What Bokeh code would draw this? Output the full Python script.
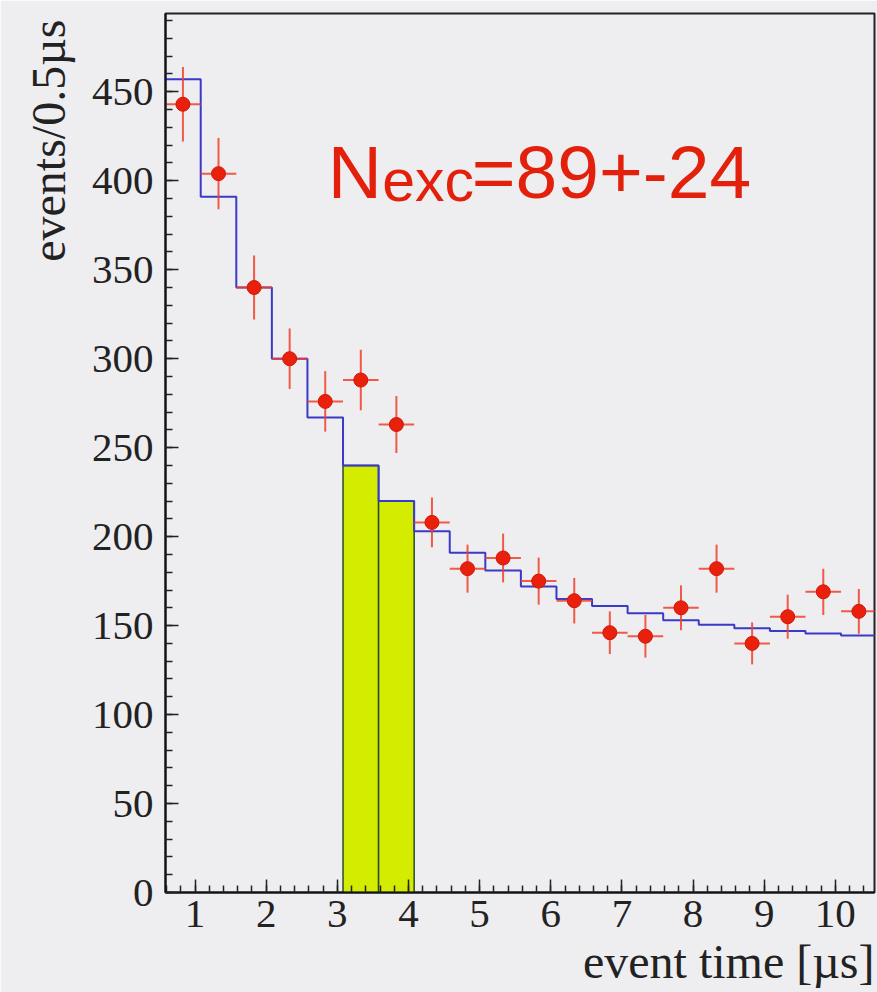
from bokeh.plotting import figure
from bokeh.models import Label, SingleIntervalTicker, Range1d, Title
from bokeh.embed import file_html
from bokeh.resources import INLINE

# ---- data ----
bin_edges = [0.58, 1.08, 1.58, 2.08, 2.58, 3.08, 3.58, 4.08, 4.58, 5.08, 5.58,
             6.08, 6.58, 7.08, 7.58, 8.08, 8.58, 9.08, 9.58, 10.08, 10.58]
bin_centers = [0.83, 1.33, 1.83, 2.33, 2.83, 3.33, 3.83, 4.33, 4.83, 5.33,
               5.83, 6.33, 6.83, 7.33, 7.83, 8.33, 8.83, 9.33, 9.83, 10.33]
data_counts = [443, 404, 340, 300, 276, 288, 263, 208, 182, 188,
               175, 164, 146, 144, 160, 182, 140, 155, 169, 158]
data_errors = [21, 20, 18, 17, 17, 17, 16, 14, 13.5, 13.7,
               13.2, 12.8, 12, 12, 12.6, 13.5, 11.8, 12.4, 13, 12.6]
fit_counts = [457, 391, 340, 300, 267, 240, 220, 203, 191, 181,
              172, 165, 161, 157, 153, 150.5, 148.5, 147, 145.5, 144.5]
excess_bins = [5, 6]          # indices of shaded bins
half_width = 0.25
y_ticks_interval = 50
x_ticks_interval = 1
annotation_main = "N"
annotation_sub = "exc"
annotation_rest = "=89+-24"
x_title = "event time [µs]"
y_title = "events/0.5µs"

BG = "#eeedf0"
RED = "#e3200c"

p = figure(width=877, height=992, output_backend="svg", toolbar_location=None,
           x_range=Range1d(0.585, 10.55), y_range=Range1d(0, 494),
           min_border_left=165, min_border_right=3, min_border_top=13,
           min_border_bottom=100)
p.background_fill_color = BG
p.border_fill_color = BG
p.outline_line_color = "#222222"
p.outline_line_width = 2
p.grid.visible = False

# shaded excess
p.quad(left=[bin_edges[i] for i in excess_bins],
       right=[bin_edges[i + 1] for i in excess_bins],
       bottom=0, top=[fit_counts[i] for i in excess_bins],
       fill_color="#d3ec00", line_color="#2e4a2e", line_width=1.5)

# fitted histogram
p.step(x=bin_edges, y=fit_counts + [fit_counts[-1]], mode="after",
       line_color="#3a3ac8", line_width=2)

# data points with error bars
p.segment(x0=bin_centers, x1=bin_centers,
          y0=[c - e for c, e in zip(data_counts, data_errors)],
          y1=[c + e for c, e in zip(data_counts, data_errors)],
          line_color="#f0402a", line_width=2, line_alpha=0.85)
p.segment(x0=[c - half_width for c in bin_centers],
          x1=[c + half_width for c in bin_centers],
          y0=data_counts, y1=data_counts,
          line_color="#f0402a", line_width=2, line_alpha=0.85)
p.scatter(x=bin_centers, y=data_counts, size=14, fill_color="#e8200c",
          line_color="#d01808")

# axes
for ax in (p.xaxis[0], p.yaxis[0]):
    ax.axis_line_color = "#111111"
    ax.axis_line_width = 2
    ax.major_tick_line_color = "#222222"
    ax.minor_tick_line_color = "#222222"
    ax.major_tick_line_width = 1.5
    ax.minor_tick_line_width = 1.5
    ax.major_tick_out = 0
    ax.minor_tick_out = 0
    ax.major_tick_in = 13
    ax.minor_tick_in = 7
    ax.major_label_text_font = "Liberation Serif"
    ax.major_label_text_font_size = "41px"
    ax.major_label_text_color = "#222222"

p.yaxis[0].ticker = SingleIntervalTicker(interval=y_ticks_interval, num_minor_ticks=5)
p.xaxis[0].ticker = SingleIntervalTicker(interval=x_ticks_interval, num_minor_ticks=5)
p.yaxis[0].major_label_standoff = 12
p.xaxis[0].major_label_standoff = 8

# axis titles as side titles (aligned to the far end like the reference)
p.add_layout(Title(text=x_title, align="right", text_font="Liberation Serif",
                   text_font_size="48px", text_font_style="normal",
                   text_color="#222222", standoff=7, offset=0), "below")
p.add_layout(Title(text=y_title, align="right",
                   text_font="Liberation Serif",
                   text_font_size="48px", text_font_style="normal",
                   text_line_height=0.7,
                   text_color="#222222", standoff=28, offset=6), "left")

# annotation
p.add_layout(Label(x=2.867, y=405, text=annotation_main, text_align="left",
                   text_baseline="alphabetic", text_font="Liberation Sans",
                   text_font_size="75px", text_color=RED))
p.add_layout(Label(x=3.63, y=400, text=annotation_sub, text_align="left",
                   text_baseline="alphabetic", text_font="Liberation Sans",
                   text_font_size="59px", text_color=RED))
p.add_layout(Label(x=4.89, y=405, text=annotation_rest, text_align="left",
                   text_baseline="alphabetic", text_font="Liberation Sans",
                   text_font_size="75px", text_color=RED))

open("out.html", "w").write(file_html(p, INLINE))
